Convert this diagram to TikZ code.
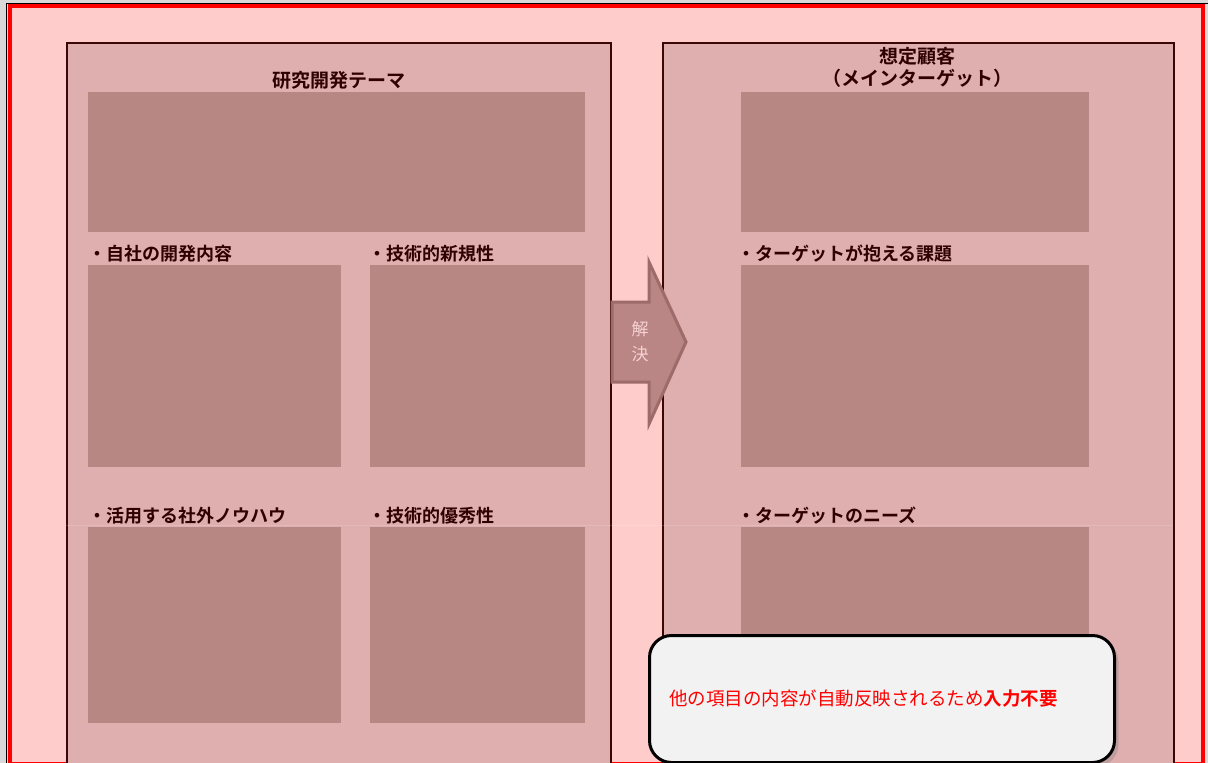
\documentclass[tikz,border=0pt]{standalone}
\usepackage{fontspec}
\setmainfont{Noto Sans CJK JP}[BoldFont={* Bold}]
\usetikzlibrary{shadows}
\definecolor{bgpink}{HTML}{FFCCCC}
\definecolor{panel}{HTML}{DFAEAE}
\definecolor{inner}{HTML}{B78784}
\definecolor{dborder}{HTML}{3A0606}
\definecolor{lbl}{HTML}{2E0000}
\definecolor{arrfill}{HTML}{B98585}
\definecolor{arrline}{HTML}{9E6B6B}
\definecolor{arrtext}{HTML}{F6D2D2}
\definecolor{callfill}{HTML}{F2F2F2}
\tikzset{
  panelbox/.style={draw=dborder, line width=2pt, fill=panel},
  innerbox/.style={fill=inner, draw=none},
  lab/.style={anchor=west, text=lbl, font=\bfseries\fontsize{18}{20}\selectfont, inner sep=0pt},
  ttl/.style={anchor=center, text=lbl, font=\bfseries\fontsize{19}{22}\selectfont, inner sep=0pt, align=center},
}
\begin{document}
\begin{tikzpicture}[x=1pt,y=-1pt]
\useasboundingbox (0,0) rectangle (1208,763);
\clip (0,0) rectangle (1208,763);
% outer background
\fill[gray!30] (0,0) rectangle (1208,763);
\draw[black, line width=1.5pt] (6.5,763) -- (6.5,3.5) -- (1208,3.5);
\fill[bgpink] (10,6) rectangle (1203,763);
\draw[red, line width=4pt] (10,763) -- (10,6) -- (1203,6) -- (1203,763);
\draw[red, line width=1pt] (10,762.5) -- (1203,762.5);
% panels
\node[panelbox, minimum width=544pt, minimum height=760pt, anchor=north west, inner sep=0pt] (lp) at (66,42) {};
\node[panelbox, minimum width=511pt, minimum height=760pt, anchor=north west, inner sep=0pt] (rp) at (662,42) {};
\draw[white, opacity=0.15] (66,525) -- (1173,525);
% inner boxes left
\node[innerbox, minimum width=497pt, minimum height=140pt, anchor=north west, inner sep=0pt] (theme) at (88,92) {};
\node[innerbox, minimum width=253pt, minimum height=202pt, anchor=north west, inner sep=0pt] (b1) at (88,265) {};
\node[innerbox, minimum width=215pt, minimum height=202pt, anchor=north west, inner sep=0pt] (b2) at (370,265) {};
\node[innerbox, minimum width=253pt, minimum height=196pt, anchor=north west, inner sep=0pt] (b3) at (88,527) {};
\node[innerbox, minimum width=215pt, minimum height=196pt, anchor=north west, inner sep=0pt] (b4) at (370,527) {};
% inner boxes right
\node[innerbox, minimum width=348pt, minimum height=140pt, anchor=north west, inner sep=0pt] (cust) at (741,92) {};
\node[innerbox, minimum width=348pt, minimum height=202pt, anchor=north west, inner sep=0pt] (r1) at (741,265) {};
\node[innerbox, minimum width=348pt, minimum height=200pt, anchor=north west, inner sep=0pt] (r2) at (741,527) {};
% titles and labels
\node[ttl] (t1) at (339,80) {研究開発テーマ};
\node[ttl] (t2) at (917,56) {想定顧客};
\node[ttl] (t3) at (917,78) {（メインターゲット）};
\node[lab] (l1) at (88,254) {・自社の開発内容};
\node[lab] (l2) at (368,254) {・技術的新規性};
\node[lab] (l3) at (88,516) {・活用する社外ノウハウ};
\node[lab] (l4) at (368,516) {・技術的優秀性};
\node[lab] (l5) at (737,254) {・ターゲットが抱える課題};
\node[lab] (l6) at (737,516) {・ターゲットのニーズ};
% arrow
\draw[fill=arrfill, draw=arrline, line width=3pt, line join=miter]
  (612,302) -- (649,302) -- (649,262) -- (686,342) -- (649,424) -- (649,382) -- (612,382) -- cycle;
\node[text=arrtext, font=\fontsize{17}{25}\selectfont, align=center, inner sep=0pt] (solve) at (640,342) {解\\決};
% callout
\node[draw=black, line width=3pt, fill=callfill, rounded corners=22pt, minimum width=465pt, minimum height=127pt, anchor=north west, inner sep=0pt,
  drop shadow={shadow xshift=4pt, shadow yshift=-4pt, opacity=0.35}] (call) at (648,634) {};
\node[anchor=west, text=red, font=\fontsize{18.5}{20}\selectfont, inner sep=0pt] (note) at (669,699) {他の項目の内容が自動反映されるため\textbf{入力不要}};
\end{tikzpicture}
\end{document}
